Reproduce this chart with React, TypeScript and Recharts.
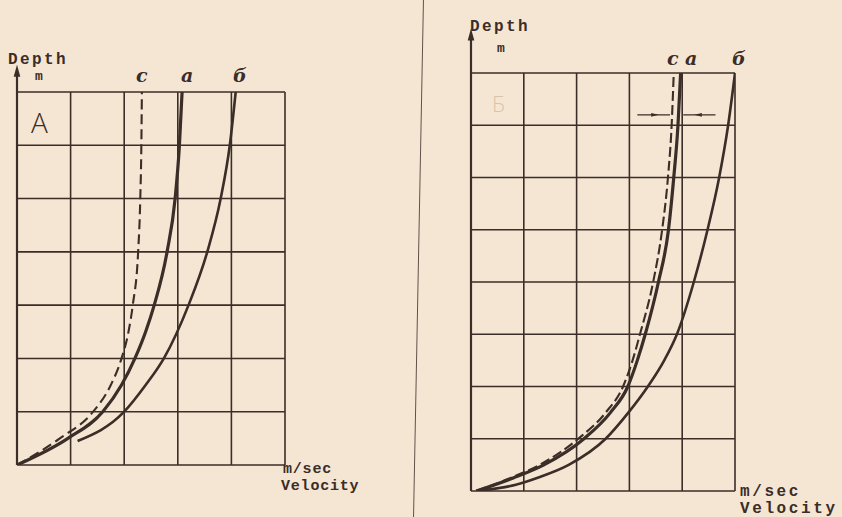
import { Line, LineChart, CartesianGrid, XAxis, YAxis, ReferenceLine, ReferenceDot } from 'recharts'

// panel A: 5 x 7 cells, panel B: 5 x 8 cells (velocity across, depth up)
const velTicks = [0, 1, 2, 3, 4, 5]
const depthTicksA = [0, 1, 2, 3, 4, 5, 6, 7]
const depthTicksB = [0, 1, 2, 3, 4, 5, 6, 7, 8]

const depthA = [0, 0.5, 1, 1.5, 2, 2.5, 3, 4, 5, 6, 7]
const velCurveCA = [0, 0.8, 1.42, 1.75, 1.95, 2.08, 2.16, 2.26, 2.3, 2.32, 2.33]
const velCurveAA = [0, 0.95, 1.6, 1.95, 2.2, 2.4, 2.56, 2.8, 2.95, 3.03, 3.08]
const depthBA = [0.45, 1, 1.5, 2, 3, 4, 5, 6, 7]
const velCurveBA = [1.13, 2.0, 2.4, 2.74, 3.2, 3.55, 3.8, 3.97, 4.08]

const depthB = [0, 0.25, 0.5, 1, 1.5, 2, 2.5, 3, 4, 5, 6, 7, 8]
const velCurveCB = [0.1, 0.75, 1.3, 2.03, 2.55, 2.88, 3.06, 3.2, 3.45, 3.62, 3.73, 3.8, 3.84]
const velCurveAB = [0.1, 0.8, 1.38, 2.14, 2.64, 2.97, 3.15, 3.3, 3.55, 3.74, 3.84, 3.92, 3.97]
const depthBB = [0, 0.12, 0.25, 0.5, 1, 1.5, 2, 2.5, 3, 4, 5, 6, 7, 8]
const velCurveBB = [0.1, 0.85, 1.25, 1.85, 2.55, 2.98, 3.35, 3.66, 3.9, 4.22, 4.48, 4.7, 4.87, 5.0]

// the two little arrows pointing at curves c / a in panel B
const arrowDepthB = 7.2
const arrowLeftB = [3.15, 3.77]
const arrowRightB = [4.02, 4.63]

const ink = '#3b2d27'
const paper = '#f5e6d4'

const pts = (hs: number[], vs: number[]) => hs.map((h, i) => ({ v: vs[i], h }))

const Tri = (dir: 'up' | 'left' | 'right', s: number) => (p: any) => {
  const { cx, cy } = p
  let d = ''
  if (dir === 'up') d = `M${cx},${cy - s} L${cx - s / 2.4},${cy + s / 2} L${cx + s / 2.4},${cy + s / 2} Z`
  if (dir === 'right') d = `M${cx + s},${cy} L${cx - s / 2},${cy - s / 2.6} L${cx - s / 2},${cy + s / 2.6} Z`
  if (dir === 'left') d = `M${cx - s},${cy} L${cx + s / 2},${cy - s / 2.6} L${cx + s / 2},${cy + s / 2.6} Z`
  return <path d={d} fill={ink} />
}

const mono = { fontFamily: '"Liberation Mono", "DejaVu Sans Mono", monospace', fontWeight: 700, color: ink, letterSpacing: 0.8, lineHeight: 1, position: 'absolute' as const, fontSize: 15 }
const monoB = { ...mono, fontSize: 16, letterSpacing: 2.6 }
const ital = { fontFamily: '"DejaVu Serif", serif', fontStyle: 'italic', fontWeight: 700, color: ink, lineHeight: 1, position: 'absolute' as const, fontSize: 19 }

function Txt({ x, y, s, style }: { x: number; y: number; s: string; style: any }) {
  return <div style={{ ...style, left: x, top: y }}>{s}</div>
}

export default function App() {
  return (
    <div style={{ position: 'absolute', left: 0, top: 0, width: 842, height: 517, background: paper, overflow: 'hidden' }}>
      <div style={{ position: 'absolute', left: 418, top: 0, width: 1, height: 517, background: ink, opacity: 0.8, transform: 'rotate(1.1deg)' }} />

      <div style={{ position: 'absolute', left: 0, top: 0 }}>
        <LineChart width={420} height={517} margin={{ top: 92, left: 17, right: 135, bottom: 52 }}>
          <CartesianGrid stroke={ink} strokeWidth={1.6} />
          <XAxis type="number" dataKey="v" domain={[0, 5]} ticks={velTicks} hide allowDataOverflow />
          <YAxis type="number" domain={[0, 7]} ticks={depthTicksA} hide allowDataOverflow />
          <ReferenceLine segment={[{ x: 0, y: 0 }, { x: 0, y: 7.38 }]} stroke={ink} strokeWidth={2.2} ifOverflow="visible" />
          <ReferenceDot x={0} y={7.36} ifOverflow="visible" shape={Tri('up', 8)} />
          <Line data={pts(depthA, velCurveCA)} dataKey="h" type="monotone" stroke={ink} strokeWidth={2.1} strokeDasharray="10 5" dot={false} isAnimationActive={false} />
          <Line data={pts(depthA, velCurveAA)} dataKey="h" type="monotone" stroke={ink} strokeWidth={3.2} dot={false} isAnimationActive={false} />
          <Line data={pts(depthBA, velCurveBA)} dataKey="h" type="monotone" stroke={ink} strokeWidth={2.6} dot={false} isAnimationActive={false} />
        </LineChart>
      </div>

      <div style={{ position: 'absolute', left: 421, top: 0 }}>
        <LineChart width={421} height={517} margin={{ top: 73, left: 50, right: 107, bottom: 26 }}>
          <CartesianGrid stroke={ink} strokeWidth={1.6} />
          <XAxis type="number" dataKey="v" domain={[0, 5]} ticks={velTicks} hide allowDataOverflow />
          <YAxis type="number" domain={[0, 8]} ticks={depthTicksB} hide allowDataOverflow />
          <ReferenceLine segment={[{ x: 0, y: 0 }, { x: 0, y: 8.72 }]} stroke={ink} strokeWidth={2.2} ifOverflow="visible" />
          <ReferenceDot x={0} y={8.7} ifOverflow="visible" shape={Tri('up', 8)} />
          <ReferenceLine segment={[{ x: arrowLeftB[0], y: arrowDepthB }, { x: arrowLeftB[1], y: arrowDepthB }]} stroke={ink} strokeWidth={1.2} ifOverflow="visible" />
          <ReferenceLine segment={[{ x: arrowRightB[0], y: arrowDepthB }, { x: arrowRightB[1], y: arrowDepthB }]} stroke={ink} strokeWidth={1.2} ifOverflow="visible" />
          <ReferenceDot x={(arrowLeftB[0] + arrowLeftB[1]) / 2} y={arrowDepthB} ifOverflow="visible" shape={Tri('right', 5)} />
          <ReferenceDot x={(arrowRightB[0] + arrowRightB[1]) / 2} y={arrowDepthB} ifOverflow="visible" shape={Tri('left', 5)} />
          <Line data={pts(depthB, velCurveCB)} dataKey="h" type="monotone" stroke={ink} strokeWidth={2.1} strokeDasharray="10 4" dot={false} isAnimationActive={false} />
          <Line data={pts(depthB, velCurveAB)} dataKey="h" type="monotone" stroke={ink} strokeWidth={3.2} dot={false} isAnimationActive={false} />
          <Line data={pts(depthBB, velCurveBB)} dataKey="h" type="monotone" stroke={ink} strokeWidth={2.6} dot={false} isAnimationActive={false} />
        </LineChart>
      </div>

      <Txt x={8} y={52} s="Depth" style={{ ...mono, fontSize: 16, letterSpacing: 2.4 }} />
      <Txt x={35} y={70} s="m" style={{ ...mono, fontSize: 13 }} />
      <Txt x={136} y={66} s="c" style={ital} />
      <Txt x={181} y={66} s="a" style={ital} />
      <Txt x={233} y={66} s="б" style={ital} />
      <div style={{ position: 'absolute', left: 31, top: 108, fontFamily: '"Open Sans", sans-serif', fontWeight: 300, fontSize: 28, color: ink, lineHeight: 1 }}>A</div>
      <Txt x={283} y={462} s="m/sec" style={mono} />
      <Txt x={281} y={479} s="Velocity" style={mono} />

      <Txt x={470} y={19} s="Depth" style={{ ...mono, fontSize: 16, letterSpacing: 2.4 }} />
      <Txt x={497} y={42} s="m" style={{ ...mono, fontSize: 13 }} />
      <Txt x={667} y={49} s="c" style={ital} />
      <Txt x={685} y={49} s="a" style={ital} />
      <Txt x={732} y={49} s="б" style={ital} />
      <div style={{ position: 'absolute', left: 492, top: 92, fontFamily: '"Open Sans", sans-serif', fontWeight: 300, fontSize: 22, color: '#d9c4aa', lineHeight: 1 }}>Б</div>
      <Txt x={740} y={484} s="m/sec" style={monoB} />
      <Txt x={740} y={501} s="Velocity" style={monoB} />
    </div>
  )
}
